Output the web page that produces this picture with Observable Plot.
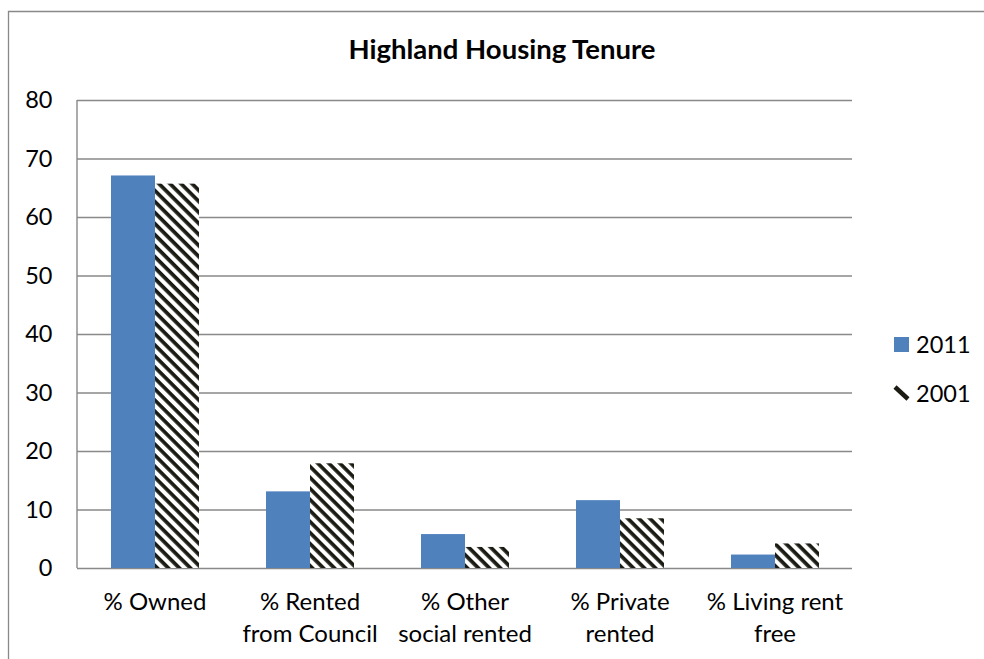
<!DOCTYPE html>
<html><head><meta charset="utf-8">
<script src="https://cdn.jsdelivr.net/npm/d3@7"></script>
<script src="https://cdn.jsdelivr.net/npm/@observablehq/plot@0.6"></script>
<style>body{margin:0;background:#fff} #chart{width:984px;height:659px}</style>
</head><body><div id="chart"></div>
<script>
const title = "Highland Housing Tenure";
const categories = ["% Owned","% Rented from Council","% Other social rented","% Private rented","% Living rent free"];
const tickLabels = ["% Owned","% Rented\nfrom Council","% Other\nsocial rented","% Private\nrented","% Living rent\nfree"];
const series = ["2011","2001"];
const values2011 = [67.1, 13.1, 5.8, 11.6, 2.3];
const values2001 = [65.7, 17.9, 3.6, 8.5, 4.2];
const yTicks = [0,10,20,30,40,50,60,70,80];

const rows = categories.flatMap((c,i)=>[
  {category:c, series:"2011", value: values2011[i]},
  {category:c, series:"2001", value: values2001[i]}
]);
const fills = {"2011":"#4F81BD","2001":"url(#hatch2001)"};
const FONT = "Lato, 'Liberation Sans', sans-serif";

const plot = Plot.plot({
  width:984, height:659, marginTop:100, marginBottom:91, marginLeft:77, marginRight:132,
  style:{fontFamily:FONT, fontSize:"24px", color:"#000", background:"#fff", overflow:"visible"},
  fx:{domain:categories, padding:0, label:null},
  x:{domain:series, paddingInner:0, paddingOuter:0.76, axis:null},
  y:{domain:[0,80], label:null},
  marks:[
    Plot.gridY(yTicks, {stroke:"#898989", strokeOpacity:1, strokeWidth:1.4}),
    Plot.axisY(yTicks, {tickSize:0, tickPadding:25, fontSize:23.5, label:null}),
    Plot.axisFx({anchor:"bottom", tickSize:0, tickPadding:19, fontSize:24, lineHeight:1.33,
      tickFormat: d => tickLabels[categories.indexOf(d)], label:null}),
    Plot.barY(rows.filter(d=>d.series==="2011"), {fx:"category", x:"series", y:"value", fill: fills["2011"]}),
    Plot.barY(rows.filter(d=>d.series==="2001"), {fx:"category", x:"series", y:"value", fill: fills["2001"]})
  ]
});
document.getElementById("chart").appendChild(plot);

const svg = d3.select(plot);
const defs = svg.insert("defs", ":first-child");
const pat = defs.append("pattern").attr("id","hatch2001").attr("patternUnits","userSpaceOnUse")
  .attr("width",7.8).attr("height",7.8).attr("patternTransform","rotate(45)");
pat.append("rect").attr("width",7.8).attr("height",7.8).attr("fill","#fff");
pat.append("rect").attr("width",7.8).attr("height",3.7).attr("fill","#1b1b13");

const yr = plot.scale("y").range;
const ml = 77;
// chart border
svg.append("path").attr("d","M8.5,659V11.5H984").attr("fill","none").attr("stroke","#898989").attr("stroke-width",1.3);
// left axis line
svg.append("line").attr("x1",ml).attr("x2",ml).attr("y1",yr[0]).attr("y2",yr[1])
  .attr("stroke","#898989").attr("stroke-width",1.4);
// title
svg.append("text").attr("x",502).attr("y",59).attr("text-anchor","middle")
  .attr("font-weight","bold").attr("font-size",27.5).attr("fill","#000").text(title);
// legend
const lg = svg.append("g").attr("font-size",23.5).attr("fill","#000").attr("text-anchor","start");
lg.append("rect").attr("x",894).attr("y",337).attr("width",15).attr("height",15).attr("fill",fills["2011"]);
lg.append("text").attr("x",916).attr("y",353).attr("text-anchor","start").text(series[0]);
lg.append("line").attr("x1",895).attr("y1",387).attr("x2",908).attr("y2",399)
  .attr("stroke","#1b1b13").attr("stroke-width",4.5);
lg.append("text").attr("x",916).attr("y",401.5).attr("text-anchor","start").text(series[1]);
</script>
</body></html>
